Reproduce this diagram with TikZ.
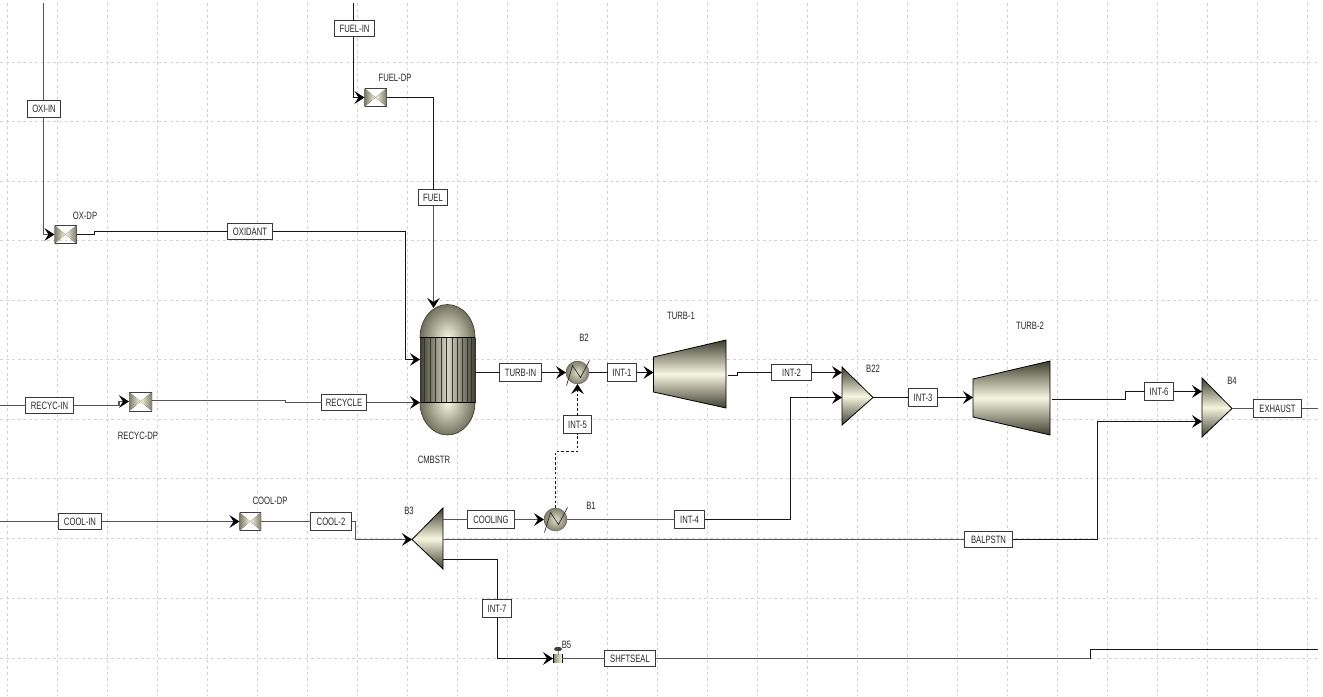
\documentclass[tikz,border=0pt]{standalone}
\usepackage{fontspec}
\setmainfont[FakeStretch=0.72]{Liberation Sans}
\usetikzlibrary{arrows.meta,calc,positioning}
\definecolor{eqdark}{HTML}{3F3F30}
\definecolor{eqmid}{HTML}{8E8E78}
\definecolor{eqlight}{HTML}{F6F6E0}
\definecolor{gridc}{HTML}{D4D4D4}
\definecolor{linec}{HTML}{161616}
\definecolor{lineg}{HTML}{555555}
\tikzset{
  x=0.75pt,y=-0.75pt,
  gridline/.style={gridc,dash pattern=on 2.2pt off 2.2pt,line width=0.6pt},
  conn/.style={linec,line width=0.75pt},
  flow/.style={conn,-{Stealth[black,length=7.5pt,width=9.5pt,inset=3pt]}},
  conng/.style={lineg,line width=1.25pt},
  flowg/.style={conng,-{Stealth[black,length=7.5pt,width=9.5pt,inset=3pt]}},
  ctrl/.style={flow,dash pattern=on 2pt off 1.6pt},
  ctrlplain/.style={conn,dash pattern=on 2pt off 1.6pt},
  stream/.style={draw=black!78,fill=white,line width=0.8pt,inner sep=0pt,outer sep=0pt,font=\fontsize{8}{9}\selectfont,text=black!85},
  blocktext/.style={font=\fontsize{8}{9}\selectfont,text=black!85,inner sep=0pt},
  equip/.style={draw=black,line width=0.6pt,top color=eqdark,bottom color=eqdark,middle color=eqlight},
}
\newcommand{\streambox}[6]{% name, x1, cy, x2, half height, text
  \node[stream,minimum width={(#4-#2)*0.75pt},minimum height={2*#5*0.75pt},anchor=center] (#1) at ({(#2+#4)/2},#3) {#6};}
\newcommand{\mixer}[5]{% name, x1, y1, x2, y2
  \fill[left color=eqmid!75!eqdark,right color=eqlight] (#2,#3) -- (#2,#5) -- ({(#2+#4)/2},{(#3+#5)/2}) -- cycle;
  \fill[left color=eqlight,right color=eqmid!75!eqdark] (#4,#3) -- (#4,#5) -- ({(#2+#4)/2},{(#3+#5)/2}) -- cycle;
  \draw[black!75,line width=0.7pt] (#2,#3) -- (#4,#3) (#2,#5) -- (#4,#5);
  \node[inner sep=0pt,outer sep=0pt,minimum width={(#4-#2)*0.75pt},minimum height={(#5-#3)*0.75pt}] (#1) at ({(#2+#4)/2},{(#3+#5)/2}) {};}
\newcommand{\exchanger}[3]{% name, cx, cy
  \node[circle,minimum size=17.2pt,inner sep=0pt,outer sep=0pt,draw=black!60,line width=0.4pt,inner color=eqlight!80!eqmid,outer color=eqmid!80!eqdark] (#1) at (#2,#3) {};
  \draw[black!85,line width=0.5pt] ($(#1)+(-11,13)$) -- ($(#1)+(-5,-7)$) -- ($(#1)+(3,5)$) -- ($(#1)+(12,-12)$);}
\begin{document}
\begin{tikzpicture}
\useasboundingbox (0,0) rectangle (1323,696);
% grid
\foreach \gx in {7.5,57.5,...,1307.5}{\draw[gridline] (\gx,3) -- (\gx,696);}
\foreach \gy in {62.5,121.5,181.5,240.5,300.5,359.5,419.5,478.5,538.5,598.5,658.5}{\draw[gridline] (0,\gy) -- (1320,\gy);}
% free ends
\coordinate (oxstart) at (43.5,3);
\coordinate (fuelstart) at (353.5,3);
\coordinate (recycstart) at (0,405.5);
\coordinate (coolstart) at (0,521.5);
\coordinate (exout) at (1318,408.5);
\coordinate (sealout) at (1318,649.5);
% vessel
\node[inner sep=0pt,outer sep=0pt,minimum width=41.25pt,minimum height=98.25pt] (CMBSTR) at (447.5,369.5) {};
\begin{scope}
  \clip (420,337.5) arc[start angle=180,end angle=360,x radius=27.5,y radius=33] -- cycle;
  \shade[inner color=eqlight,outer color=eqmid!45!eqdark] (447.5,337.5) ellipse[x radius=30,y radius=37];
\end{scope}
\begin{scope}
  \clip (420,402.5) arc[start angle=180,end angle=0,x radius=27.5,y radius=32.5] -- cycle;
  \shade[inner color=eqlight,outer color=eqmid!45!eqdark] (447.5,402.5) ellipse[x radius=30,y radius=37];
\end{scope}
\draw[eqdark,line width=0.5pt] (420,337.5) arc[start angle=180,end angle=360,x radius=27.5,y radius=33];
\draw[eqdark,line width=0.5pt] (420,402.5) arc[start angle=180,end angle=0,x radius=27.5,y radius=32.5];
\shade[left color=eqdark,right color=eqdark,middle color=eqlight!70!eqmid] (420,337.5) rectangle (475,402.5);
\foreach \vx in {424.5,430.5,435.5,441.5,446.5,452.5,457.5,462.5,467.5,471.5}{\draw[black!80,line width=0.45pt] (\vx,337.5) -- (\vx,402.5);}
\draw[black,line width=0.6pt] (420,337.5) -- (475,337.5) (420,402.5) -- (475,402.5);
\draw[black!80,line width=0.5pt] (420,337.5) -- (420,402.5) (475,337.5) -- (475,402.5);
% turbines and splitters
\path[equip] (653.5,357) -- (726,340) -- (726,408) -- (653.5,392) -- cycle;
\coordinate (T1in) at (653.5,372.5); \coordinate (T1out) at (728,375.5);
\path[equip] (973,379) -- (1050,361) -- (1050,435) -- (973,417) -- cycle;
\coordinate (T2in) at (973,397.5); \coordinate (T2out) at (1052,399.5);
\path[equip] (842,367) -- (873,397.5) -- (842,425) -- cycle;
\coordinate (B22a) at (842,372.5); \coordinate (B22b) at (842,397.5); \coordinate (B22out) at (873,397.5);
\path[equip] (1202,378) -- (1232,408.5) -- (1202,437) -- cycle;
\coordinate (B4a) at (1202,391.5); \coordinate (B4b) at (1202,421.5); \coordinate (B4out) at (1232,408.5);
\path[equip] (412,539.5) -- (443,508) -- (443,569) -- cycle;
\coordinate (B3in) at (412,539.5); \coordinate (B3a) at (443,519.5); \coordinate (B3b) at (443,539.5); \coordinate (B3c) at (443,559.5);
% mixers
\mixer{OXDP}{54.5}{225.5}{76.5}{243.5}
\mixer{FUELDP}{364.5}{88.5}{386.5}{106.5}
\mixer{RECYCDP}{129}{392}{152}{411}
\coordinate (rin) at (129,401.5); \coordinate (rout) at (152,400.5);
\mixer{COOLDP}{239.5}{512.5}{261}{530.5}
% exchangers
\exchanger{BTwo}{577.5}{372.5}
\exchanger{BOne}{555.5}{519.5}
% valve
\fill[left color=eqmid,right color=eqlight] (554,654.5) rectangle (562,662.5);
\draw[black,line width=0.9pt] (562.5,653.5) -- (562.5,663);
\draw[black,line width=0.9pt] (553.5,653.5) -- (553.5,663);
\draw[eqmid,line width=0.6pt] (558,651) -- (558,654.5);
\fill[black!75] (558,649) ellipse[x radius=4,y radius=2.2];
\node[inner sep=0pt,outer sep=0pt,minimum width=6.75pt,minimum height=7pt] (BFive) at (557.5,658.5) {};
% stream labels
\streambox{sOXIIN}{27.5}{109}{60.5}{8.5}{OXI-IN}
\streambox{sFUELIN}{334.5}{28.5}{374.5}{8}{FUEL-IN}
\streambox{sFUEL}{418.5}{197.5}{447.5}{8}{FUEL}
\streambox{sOXIDANT}{227.5}{231.5}{272.5}{8}{OXIDANT}
\streambox{sRECYCIN}{25.5}{405.5}{73.5}{8}{RECYC-IN}
\streambox{sRECYCLE}{321.5}{402.5}{366.5}{8}{RECYCLE}
\streambox{sTURBIN}{499.5}{372.5}{541.5}{9}{TURB-IN}
\streambox{sINTONE}{607.5}{372.5}{636.5}{9}{INT-1}
\streambox{sINTTWO}{771.5}{372.5}{811.5}{8}{INT-2}
\streambox{sINTTHREE}{908.5}{397.5}{937.5}{9}{INT-3}
\streambox{sINTFIVE}{563.5}{424.5}{591.5}{9}{INT-5}
\streambox{sINTSIX}{1144.5}{391.5}{1173.5}{9}{INT-6}
\streambox{sEXHAUST}{1253.5}{408.5}{1301.5}{9}{EXHAUST}
\streambox{sCOOLIN}{58.5}{521.5}{101.5}{8}{COOL-IN}
\streambox{sCOOLTWO}{310.5}{521.5}{351.5}{9}{COOL-2}
\streambox{sCOOLING}{467.5}{519.5}{514.5}{9}{COOLING}
\streambox{sINTFOUR}{674.5}{519.5}{704.5}{9}{INT-4}
\streambox{sBALPSTN}{964.5}{539.5}{1012.5}{8}{BALPSTN}
\streambox{sINTSEVEN}{482.5}{608.5}{511.5}{9}{INT-7}
\streambox{sSHFTSEAL}{604.5}{658.5}{655.5}{8}{SHFTSEAL}
% block names
\node[blocktext] (lOX) at (85,216) {OX-DP};
\node[blocktext] (lFUEL) at (395,78) {FUEL-DP};
\node[blocktext] (lREC) at (138,436) {RECYC-DP};
\node[blocktext] (lCOOL) at (270,501) {COOL-DP};
\node[blocktext] (lCMB) at (434,460) {CMBSTR};
\node[blocktext] (lBTwo) at (584,338) {B2};
\node[blocktext] (lBOne) at (591,506) {B1};
\node[blocktext] (lBThree) at (409,511) {B3};
\node[blocktext] (lBFive) at (566.5,645) {B5};
\node[blocktext] (lTA) at (681,316) {TURB-1};
\node[blocktext] (lTB) at (1030,326) {TURB-2};
\node[blocktext] (lBTT) at (873,369) {B22};
\node[blocktext] (lBFour) at (1232,381) {B4};
% connectors
\draw[conng] (oxstart) -- (sOXIIN.north -| oxstart);
\draw[flowg] (sOXIIN.south -| oxstart) -- (43.5,234.5) -- (OXDP.west);
\draw[conn] (OXDP.east) -- (94.5,234.5) -- (94.5,231.5) -- (sOXIDANT.west);
\draw[flow] (sOXIDANT.east) -- (405.5,231.5) -- (405.5,359.5) -- (420,359.5);
\draw[conn] (fuelstart) -- (sFUELIN.north -| fuelstart);
\draw[flow] (sFUELIN.south -| fuelstart) -- (353.5,97.5) -- (FUELDP.west);
\draw[conn] (FUELDP.east) -- (433.5,97.5) -- (sFUEL.north -| 433.5,0);
\draw[flowg] (sFUEL.south -| 433.5,0) -- (433.5,308);
\draw[conng] (recycstart) -- (sRECYCIN.west);
\draw[flowg] (sRECYCIN.east) -- (119,405.5) -- (119,401.5) -- (rin);
\draw[conng] (rout) -- (285.5,400.5) -- (285.5,402.5) -- (sRECYCLE.west);
\draw[flowg] (sRECYCLE.east) -- (420,402.5);
\draw[conn] (475,372.5) -- (sTURBIN.west);
\draw[flow] (sTURBIN.east) -- (BTwo.west);
\draw[conn] (BTwo.east) -- (sINTONE.west);
\draw[flow] (sINTONE.east) -- (T1in);
\draw[conn] (T1out) -- (737.5,375.5) -- (737.5,372.5) -- (sINTTWO.west);
\draw[flow] (sINTTWO.east) -- (B22a);
\draw[conn] (B22out) -- (sINTTHREE.west);
\draw[flow] (sINTTHREE.east) -- (T2in);
\draw[conn] (T2out) -- (1125.5,399.5) -- (1125.5,391.5) -- (sINTSIX.west);
\draw[flow] (sINTSIX.east) -- (B4a);
\draw[conng] (B4out) -- (sEXHAUST.west);
\draw[conng] (sEXHAUST.east) -- (exout);
\draw[conng] (coolstart) -- (sCOOLIN.west);
\draw[flowg] (sCOOLIN.east) -- (COOLDP.west);
\draw[conng] (COOLDP.east) -- (sCOOLTWO.west);
\draw[flowg] (sCOOLTWO.east) -- (355.5,521.5) -- (355.5,539.5) -- (B3in);
\draw[conng] (B3a) -- (sCOOLING.west);
\draw[flowg] (sCOOLING.east) -- (BOne.west);
\draw[conng] (BOne.east) -- (sINTFOUR.west);
\draw[flow] (sINTFOUR.east) -- (790.5,519.5) -- (790.5,397.5) -- (B22b);
\draw[conng] (B3b) -- (sBALPSTN.west);
\draw[flow] (sBALPSTN.east) -- (1097.5,539.5) -- (1097.5,421.5) -- (B4b);
\draw[conn] (B3c) -- (497.5,559.5) -- (sINTSEVEN.north -| 497.5,0);
\draw[flow] (sINTSEVEN.south -| 497.5,0) -- (497.5,658.5) -- (BFive.west);
\draw[conng] (BFive.east) -- (sSHFTSEAL.west);
\draw[conng] (sSHFTSEAL.east) -- (1090.5,658.5);
\draw[conn] (1090.5,658.5) -- (1090.5,649.5) -- (sealout);
\draw[ctrlplain] (BOne.north) -- (555.5,451.5) -- (577.5,451.5) -- (sINTFIVE.south -| 577.5,0);
\draw[ctrl] (sINTFIVE.north -| 577.5,0) -- (BTwo.south);
\end{tikzpicture}
\end{document}
